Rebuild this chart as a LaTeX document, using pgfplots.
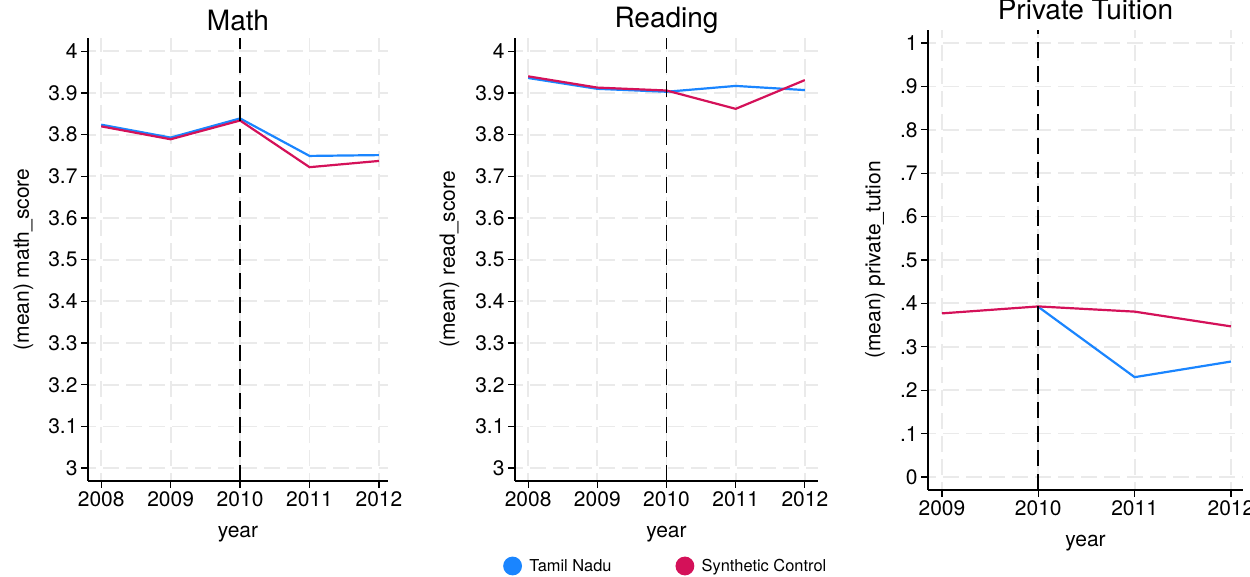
\documentclass[border=0pt]{standalone}
\usepackage{fontspec}
\setmainfont{TeX Gyre Heros}
\usepackage{pgfplots}
\pgfplotsset{compat=1.18}

\definecolor{tnblue}{HTML}{1A85FF}
\definecolor{scred}{HTML}{D41159}
\definecolor{gridgray}{HTML}{EAEAEA}

\pgfplotsset{
  every axis title shift=0pt,
  panel/.style={
    scale only axis,
    axis x line*=bottom,
    axis y line*=left,
    axis line style={line width=1.2pt,-},
    tick align=outside,
    major tick length=7pt,
    tick style={black,line width=1.2pt},
    grid=major,
    major grid style={gridgray,line width=1.8pt,dash pattern=on 16pt off 7pt,dash phase=8pt},
    tick label style={font=\fontsize{21}{25}\selectfont},
    label style={font=\fontsize{21}{25}\selectfont},
    title style={font=\fontsize{28}{32}\selectfont},
    /pgf/number format/assume math mode=true,
    /pgf/number format/1000 sep={},
    every axis plot/.append style={line width=2.2pt,mark=none},
  },
  refline/.style={black,line width=1.7pt,dash pattern=on 16pt off 8pt,forget plot},
}

\begin{document}
\begin{tikzpicture}
\useasboundingbox (0pt,0pt) rectangle (1250pt,577pt);

% ---- Math ----
\begin{axis}[panel,
  at={(88pt,96pt)}, anchor=south west,
  width=300pt, height=443pt,
  xmin=2007.81, xmax=2012.13,
  ymin=2.969, ymax=4.032,
  xtick={2008,2009,2010,2011,2012},
  ytick={3,3.1,3.2,3.3,3.4,3.5,3.6,3.7,3.8,3.9,4},
  title={Math},
  title style={at={(axis description cs:0.5,1.04)},anchor=center},
  xlabel={year},
  xlabel style={at={(axis description cs:0.5,-0.12)},anchor=center},
  ylabel={(mean) math\_score},
  ylabel style={at={(axis description cs:-0.215,0.5)},anchor=center},
]
\addplot[tnblue] coordinates {(2008,3.824) (2009,3.793) (2010,3.839) (2011,3.749) (2012,3.751)};
\addplot[scred] coordinates {(2008,3.820) (2009,3.789) (2010,3.834) (2011,3.722) (2012,3.737)};
\addplot[refline] coordinates {(2010,2.969) (2010,4.032)};
\end{axis}

% ---- Reading ----
\begin{axis}[panel,
  at={(515pt,96pt)}, anchor=south west,
  width=303pt, height=443pt,
  xmin=2007.81, xmax=2012.19,
  ymin=2.969, ymax=4.032,
  xtick={2008,2009,2010,2011,2012},
  ytick={3,3.1,3.2,3.3,3.4,3.5,3.6,3.7,3.8,3.9,4},
  title={Reading},
  title style={at={(axis description cs:0.5,1.04)},anchor=center},
  xlabel={year},
  xlabel style={at={(axis description cs:0.5,-0.12)},anchor=center},
  ylabel={(mean) read\_score},
  ylabel style={at={(axis description cs:-0.216,0.5)},anchor=center},
  legend columns=2,
  legend image code/.code={\fill[#1] (8.3pt,0pt) circle (8.3pt);\path (0pt,0pt) (22pt,0pt);},
  legend style={at={(axis description cs:0,0)},anchor=west,
    xshift=-12pt,yshift=-85pt,draw=none,fill=none,inner sep=0pt,
    font=\fontsize{16.4}{19}\selectfont,
    /tikz/every even column/.append style={column sep=62pt}},
]
\addplot[tnblue] coordinates {(2008,3.936) (2009,3.910) (2010,3.903) (2011,3.917) (2012,3.907)};
\addlegendentry{Tamil Nadu}
\addplot[scred] coordinates {(2008,3.940) (2009,3.913) (2010,3.906) (2011,3.862) (2012,3.931)};
\addlegendentry{Synthetic Control}
\addplot[refline] coordinates {(2010,2.969) (2010,4.032)};
\end{axis}

% ---- Private Tuition ----
\begin{axis}[panel,
  at={(928pt,87pt)}, anchor=south west,
  width=315pt, height=460pt,
  xmin=2008.855, xmax=2012.125,
  ymin=-0.03, ymax=1.03,
  xtick={2009,2010,2011,2012},
  ytick={0,0.1,0.2,0.3,0.4,0.5,0.6,0.7,0.8,0.9,1},
  yticklabels={0,.1,.2,.3,.4,.5,.6,.7,.8,.9,1},
  title={Private Tuition},
  title style={at={(axis description cs:0.5,1.045)},anchor=center},
  xlabel={year},
  xlabel style={at={(axis description cs:0.5,-0.115)},anchor=center},
  ylabel={(mean) private\_tution},
  ylabel style={at={(axis description cs:-0.168,0.5)},anchor=center},
]
\addplot[tnblue] coordinates {(2010,0.392) (2011,0.230) (2012,0.266)};
\addplot[scred] coordinates {(2009,0.377) (2010,0.393) (2011,0.381) (2012,0.347)};
\addplot[refline] coordinates {(2010,-0.03) (2010,1.03)};
\end{axis}
\end{tikzpicture}
\end{document}
